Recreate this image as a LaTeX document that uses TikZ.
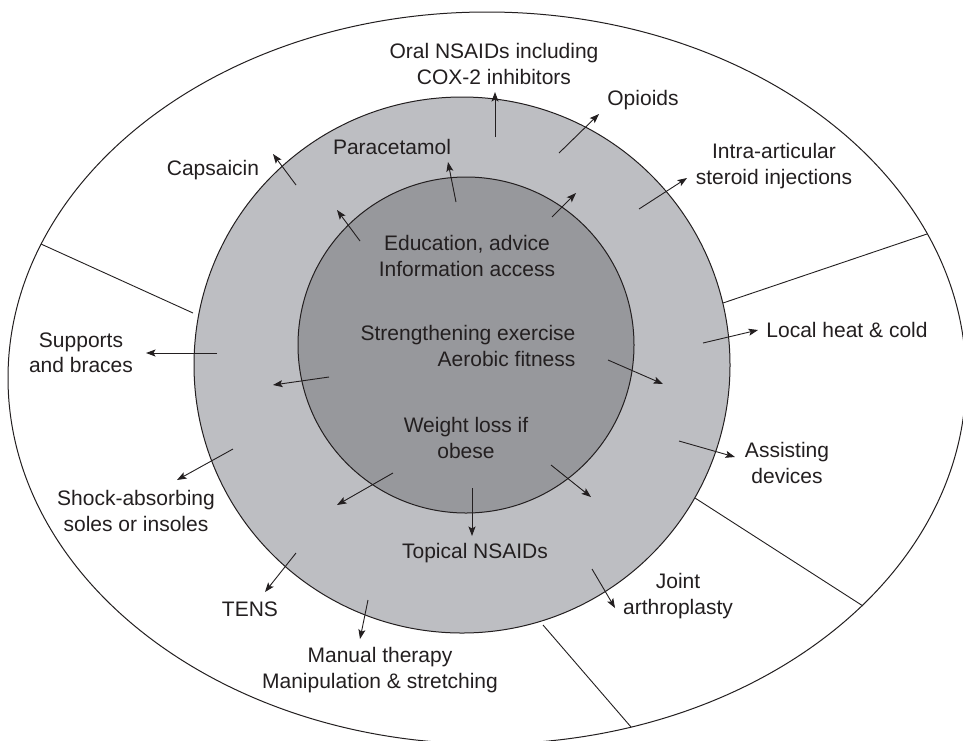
\documentclass[tikz,border=0pt]{standalone}
\usepackage{fontspec}
\setmainfont{Liberation Sans}
\usetikzlibrary{arrows.meta}
\definecolor{ringmid}{HTML}{BDBEC2}
\definecolor{ringin}{HTML}{97989C}
\definecolor{ink}{HTML}{231F20}
\begin{document}
\begin{tikzpicture}[x=1pt,y=-1pt,
  lbl/.style={font=\fontsize{21}{25.5}\selectfont, text=ink, align=center, inner sep=0pt},
  arr/.style={draw=ink, line width=0.9pt, -{Stealth[length=9.5pt,width=7pt,inset=2pt]}},
  divline/.style={draw=ink, line width=0.9pt},
  ring/.style={draw=ink, line width=1pt}]
\useasboundingbox (0,0) rectangle (963,740);
\clip (0,0) rectangle (963,740);
\fill[white] (0,0) rectangle (963,740);
% outer ellipse
\draw[ring] (487,378) ellipse [x radius=479pt, y radius=366pt];
% divider lines
\coordinate (d1a) at (41,244); \coordinate (d1b) at (193,313);
\coordinate (d2a) at (927,234); \coordinate (d2b) at (720,304);
\coordinate (d3a) at (695,498); \coordinate (d3b) at (863,606);
\coordinate (d4a) at (543,625); \coordinate (d4b) at (631,727);
\draw[divline] (d1a) -- (d1b);
\draw[divline] (d2a) -- (d2b);
\draw[divline] (d3a) -- (d3b);
\draw[divline] (d4a) -- (d4b);
% rings
\draw[ring, fill=ringmid] (462,365) circle [radius=268pt];
\draw[ring, fill=ringin] (466,345) circle [radius=168pt];
% labels
\node[lbl] (oral) at (494,64) {Oral NSAIDs including\\COX-2 inhibitors};
\node[lbl] (opioids) at (643,100) {Opioids};
\node[lbl] (intra) at (774,166) {Intra-articular\\steroid injections};
\node[lbl] (local) at (847,330) {Local heat \& cold};
\node[lbl] (caps) at (213,170) {Capsaicin};
\node[lbl] (para) at (392,147) {Paracetamol};
\node[lbl] (edu) at (467,256) {Education, advice\\Information access};
\node[lbl, align=right] (streng) at (468,346) {Strengthening exercise\\Aerobic fitness};
\node[lbl] (supp) at (81,353) {Supports\\and braces};
\node[lbl] (weight) at (466,438) {Weight loss if\\obese};
\node[lbl] (assist) at (787,463) {Assisting\\devices};
\node[lbl] (shock) at (136,511) {Shock-absorbing\\soles or insoles};
\node[lbl] (topical) at (475,553) {Topical NSAIDs};
\node[lbl] (joint) at (678,596) {Joint\\arthroplasty};
\node[lbl] (tens) at (250,609) {TENS};
\node[lbl] (manual) at (380,670) {Manual therapy\\Manipulation \& stretching};
% arrow end points
\coordinate (a1s) at (495,137); \coordinate (a1e) at (495,92);
\coordinate (a2s) at (559,153); \coordinate (a2e) at (599,114);
\coordinate (a3s) at (639,209); \coordinate (a3e) at (687,178);
\coordinate (a4s) at (703,343); \coordinate (a4e) at (758,330);
\coordinate (a5s) at (296,185); \coordinate (a5e) at (273,154);
\coordinate (a6s) at (456,202); \coordinate (a6e) at (448,162);
\coordinate (a7s) at (360,241); \coordinate (a7e) at (337,210);
\coordinate (a8s) at (552,217); \coordinate (a8e) at (576,193);
\coordinate (a9s) at (217,353); \coordinate (a9e) at (146,353);
\coordinate (a10s) at (329,377); \coordinate (a10e) at (273,385);
\coordinate (a11s) at (608,360); \coordinate (a11e) at (663,384);
\coordinate (a12s) at (679,441); \coordinate (a12e) at (735,457);
\coordinate (a13s) at (551,465); \coordinate (a13e) at (591,497);
\coordinate (a14s) at (393,473); \coordinate (a14e) at (337,505);
\coordinate (a15s) at (233,449); \coordinate (a15e) at (177,480);
\coordinate (a16s) at (472,488); \coordinate (a16e) at (472,536);
\coordinate (a17s) at (592,569); \coordinate (a17e) at (615,608);
\coordinate (a18s) at (296,553); \coordinate (a18e) at (265,592);
\coordinate (a19s) at (368,600); \coordinate (a19e) at (360,639);
\foreach \i in {1,...,19} {\draw[arr] (a\i s) -- (a\i e);}
\end{tikzpicture}
\end{document}
